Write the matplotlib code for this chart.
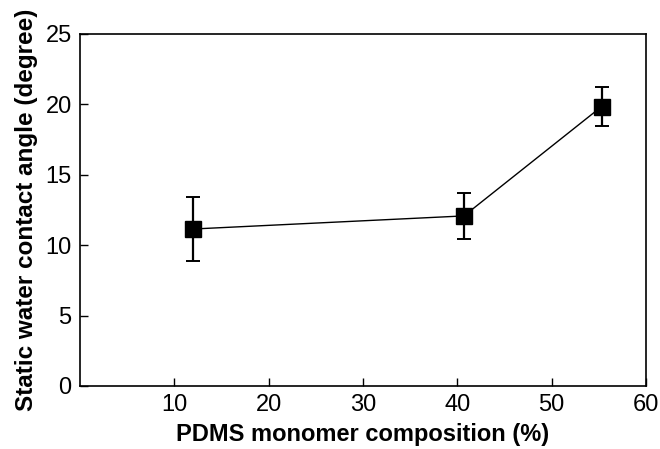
import matplotlib.pyplot as plt

plt.rcParams['font.family'] = ['Liberation Sans', 'DejaVu Sans']

# PDMS content vs contact angle, mean +/- sd
pdms_pct = [12.0, 40.7, 55.3]
contact_angle = [11.15, 12.08, 19.85]
angle_err = [2.3, 1.65, 1.4]

x_ticks = [10, 20, 30, 40, 50, 60]
y_ticks = [0, 5, 10, 15, 20, 25]

fig = plt.figure(figsize=(6.6, 4.49), dpi=100)
ax = fig.add_axes([80 / 660, 63 / 449, 566 / 660, 352 / 449])

ax.errorbar(pdms_pct, contact_angle, yerr=angle_err, color='black',
            marker='s', markersize=11, linewidth=1.0, elinewidth=1.6,
            capsize=5, capthick=1.4)

ax.set_xlim(0, 60)
ax.set_ylim(0, 25)
ax.set_xticks(x_ticks)
ax.set_yticks(y_ticks)
ax.tick_params(direction='in', length=6, width=1, labelsize=17, pad=6)
ax.tick_params(axis='y', pad=6)
for s in ax.spines.values():
    s.set_linewidth(1.2)

ax.set_xlabel('PDMS monomer composition (%)', fontsize=17, fontweight='bold', labelpad=5)
ax.set_ylabel('Static water contact angle (degree)', fontsize=17.5, fontweight='bold', labelpad=5)

fig.savefig('out.png', dpi=100)
